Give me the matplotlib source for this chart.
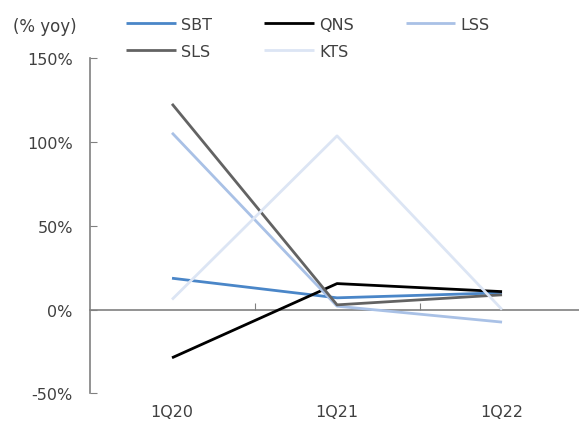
import matplotlib.pyplot as plt
from matplotlib.ticker import FuncFormatter

# Quarterly growth, % yoy
quarters = ["1Q20", "1Q21", "1Q22"]
sbt = [18.7, 7.0, 10.0]
qns = [-28.8, 15.5, 10.7]
lss = [105.5, 2.0, -7.5]
sls = [122.8, 2.8, 8.8]
kts = [6.0, 103.7, 0.0]

series = [
    ("SBT", sbt, "#4a86c8"),
    ("QNS", qns, "#000000"),
    ("LSS", lss, "#a9c1e6"),
    ("SLS", sls, "#636363"),
    ("KTS", kts, "#dce5f4"),
]

text_color = "#404040"
axis_color = "#808080"
plt.rcParams["font.family"] = ["Tahoma", "DejaVu Sans"]
plt.rcParams["font.size"] = 11.5

fig = plt.figure(figsize=(5.79, 4.27), dpi=100)
ax = fig.add_axes([0.1546, 0.0766, 0.855, 0.7845])

x = range(len(quarters))
lines = {}
for name, vals, color in series:
    lines[name], = ax.plot(x, vals, color=color, lw=2.0, label=name,
                           solid_capstyle="butt")

ax.set_xlim(-0.5, 2.5)
ax.set_ylim(-50, 150)
ax.set_yticks([-50, 0, 50, 100, 150])
ax.yaxis.set_major_formatter(FuncFormatter(lambda v, p: f"{v:.0f}%"))
ax.tick_params(axis="y", direction="in", length=5, color=axis_color,
               labelcolor=text_color, pad=12)

ax.set_xticks(list(x))
ax.set_xticklabels(quarters)
ax.tick_params(axis="x", length=0, labelcolor=text_color, pad=8)

for s in ["top", "right", "bottom"]:
    ax.spines[s].set_visible(False)
ax.spines["left"].set_color(axis_color)
ax.spines["left"].set_linewidth(1.2)

# zero line with category separators
zero = ax.secondary_xaxis(0.25)
zero.set_xticks([0.5, 1.5])
zero.set_xticklabels([])
zero.tick_params(direction="in", length=5, color=axis_color)
zero.spines["bottom"].set_color(axis_color)
zero.spines["bottom"].set_linewidth(1.2)

fig.text(0.022, 0.936, "(% yoy)", color=text_color, fontsize=12, va="center")

# legend laid out row by row: SBT QNS LSS / SLS KTS
order = ["SBT", "SLS", "QNS", "KTS", "LSS"]
fig.legend([lines[n] for n in order], order, loc="upper left",
           bbox_to_anchor=(0.2176, 0.958), ncol=3, frameon=False,
           borderpad=0, borderaxespad=0, handlelength=3.1, handletextpad=0.35,
           columnspacing=3.25, labelspacing=0.75, labelcolor=text_color)

fig.savefig("out.png", dpi=100)
